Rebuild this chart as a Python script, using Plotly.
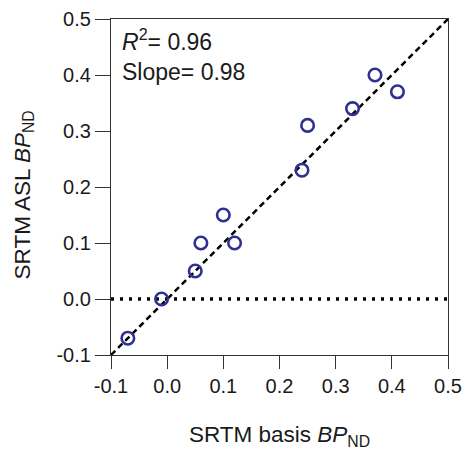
import plotly.graph_objects as go

basis = [-0.07, -0.01, 0.05, 0.06, 0.10, 0.12, 0.24, 0.25, 0.33, 0.37, 0.41]
asl = [-0.07, 0.00, 0.05, 0.10, 0.15, 0.10, 0.23, 0.31, 0.34, 0.40, 0.37]
identity = [-0.1, 0.5]
zero_x = [-0.1, 0.5]
zero_y = [0.0, 0.0]
ticks = [-0.1, 0.0, 0.1, 0.2, 0.3, 0.4, 0.5]
tick_text = ["-0.1", "0.0", "0.1", "0.2", "0.3", "0.4", "0.5"]

fig = go.Figure()
fig.add_trace(go.Scatter(x=zero_x, y=zero_y, mode="lines",
                         line=dict(color="black", width=3.5, dash="3px,6px"), showlegend=False))
fig.add_trace(go.Scatter(x=identity, y=identity, mode="lines",
                         line=dict(color="black", width=2.5, dash="6px,4px"), showlegend=False))
fig.add_trace(go.Scatter(x=basis, y=asl, mode="markers",
                         marker=dict(symbol="circle-open", size=12.5, color="#2e3192",
                                     line=dict(width=2.6, color="#2e3192")),
                         showlegend=False, cliponaxis=False))

font = "Liberation Sans, Arial, sans-serif"
txt = "#1a1a1a"
axis_common = dict(range=[-0.1, 0.5], tickvals=ticks, ticktext=tick_text,
                   ticks="outside", tickwidth=1, tickcolor="#333",
                   showline=True, linecolor="#333", linewidth=1.2, mirror=True,
                   showgrid=False, zeroline=False, automargin=False,
                   tickfont=dict(family=font, size=20, color=txt))
fig.update_layout(
    width=462, height=450,
    margin=dict(l=111, r=14, t=19, b=95, autoexpand=False),
    plot_bgcolor="white", paper_bgcolor="white",
    font=dict(family=font, color=txt),
    xaxis=dict(axis_common, ticklen=13,
               title=dict(text="SRTM basis <i>BP</i><sub>ND</sub>",
                          font=dict(family=font, size=22.5, color=txt), standoff=30)),
    yaxis=dict(axis_common, ticklen=15),
)
fig.add_annotation(x=0, y=0.475, xref="paper", yref="paper", xanchor="center", yanchor="middle",
                   xshift=-87, textangle=-90, showarrow=False,
                   text="SRTM ASL <i>BP</i><sub>ND</sub>",
                   font=dict(family=font, size=22.5, color=txt))
fig.add_annotation(x=0, y=1, xref="paper", yref="paper", xanchor="left", yanchor="top",
                   xshift=9, yshift=-4, align="left", showarrow=False,
                   text="<i>R</i><sup>2</sup>= 0.96<br>Slope= 0.98",
                   font=dict(family=font, size=23, color=txt))
fig.write_html("out.html")
